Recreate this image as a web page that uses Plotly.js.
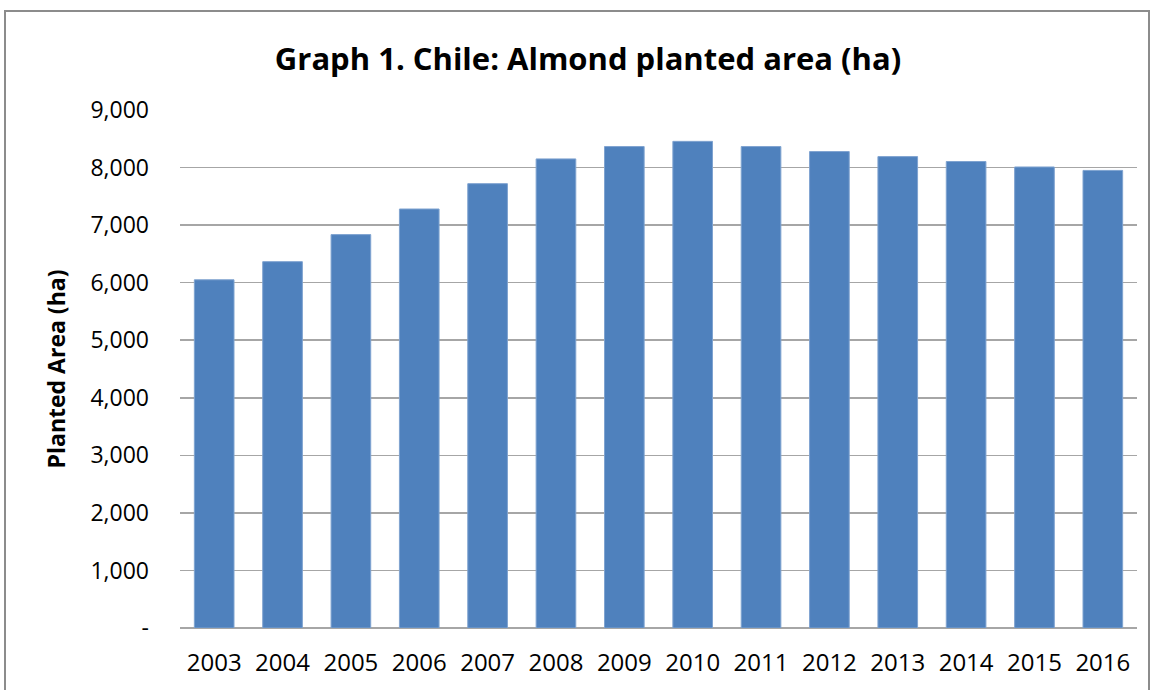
<!DOCTYPE html>
<html>
<head>
<meta charset="utf-8">
<script src="https://cdn.plot.ly/plotly-3.0.1.min.js"></script>
<style>
  html, body { margin: 0; padding: 0; background: #ffffff; }
  #frame { position: absolute; left: 4px; top: 10px; width: 1146px; height: 690px; border-left: 2px solid #8c8c8c; border-top: 2px solid #8c8c8c; border-right: 2px solid #8c8c8c; box-sizing: border-box; }
  #chart { position: absolute; left: 0; top: 0; width: 1153px; height: 690px; }
</style>
</head>
<body>
<div id="frame"></div>
<div id="chart"></div>
<script>
const years = ['2003','2004','2005','2006','2007','2008','2009','2010','2011','2012','2013','2014','2015','2016'];
const plantedArea = [6050, 6365, 6835, 7280, 7720, 8150, 8365, 8455, 8365, 8278, 8190, 8105, 8010, 7950];
const yTickVals = [0, 1000, 2000, 3000, 4000, 5000, 6000, 7000, 8000, 9000];
const yTickText = ['-', '1,000', '2,000', '3,000', '4,000', '5,000', '6,000', '7,000', '8,000', '9,000'];

const font = '"Open Sans", Lato, sans-serif';

Plotly.newPlot('chart', [{
  type: 'bar',
  x: years,
  y: plantedArea,
  marker: { color: '#4f81bd', line: { color: '#7fa3d0', width: 1 } },
  hoverinfo: 'x+y'
}], {
  width: 1153,
  height: 690,
  paper_bgcolor: 'rgba(0,0,0,0)',
  plot_bgcolor: 'rgba(0,0,0,0)',
  margin: { l: 180, r: 16, t: 110, b: 62 },
  bargap: 0.42,
  showlegend: false,
  title: {
    text: '<b>Graph 1. Chile: Almond planted area (ha)</b>',
    font: { family: font, size: 31, color: '#000000' },
    x: 0.51, xanchor: 'center',
    y: 0.915, yanchor: 'middle'
  },
  xaxis: {
    type: 'category',
    tickfont: { family: font, size: 24, color: '#000000' },
    showline: false,
    ticks: '',
    ticklabelstandoff: 18
  },
  yaxis: {
    range: [0, 9000],
    tickvals: yTickVals,
    ticktext: yTickText,
    tickfont: { family: font, size: 23, color: '#000000' },
    gridcolor: '#a6a6a6',
    gridwidth: 1.5,
    zeroline: true,
    zerolinecolor: '#a6a6a6',
    zerolinewidth: 1.5,
    showline: false,
    ticks: '',
    ticklabelstandoff: 30,
    title: {
      text: '<b>Planted Area (ha)</b>',
      font: { family: font, size: 23, color: '#000000' },
      standoff: 18
    }
  }
}, { displayModeBar: false, staticPlot: true });
</script>
</body>
</html>
